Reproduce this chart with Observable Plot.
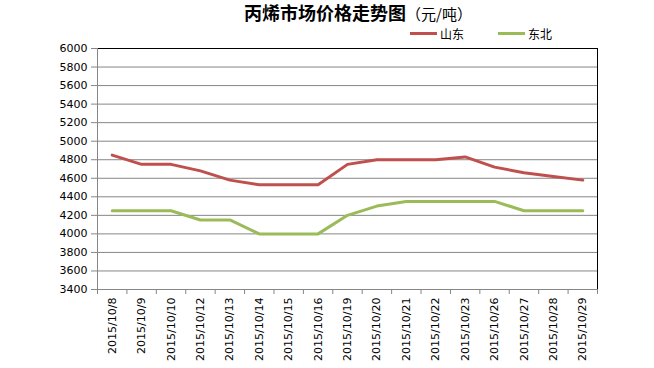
<!DOCTYPE html>
<html><head><meta charset="utf-8">
<script src="https://cdn.jsdelivr.net/npm/d3@7"></script>
<script src="https://cdn.jsdelivr.net/npm/@observablehq/plot@0.6"></script>
<style>
body{margin:0;background:#fff;font-family:"Noto Sans CJK SC",sans-serif;}
#wrap{width:654px;height:368px;position:relative;overflow:hidden;}
#title{height:24px;line-height:24px;text-align:center;padding-left:62px;font-size:18px;color:#000;white-space:nowrap;}
#title b{font-weight:bold;}
#title span{font-weight:normal;font-size:15px;}
#legend{height:19px;position:relative;font-size:12px;}
.lg{position:absolute;top:0;display:flex;align-items:center;height:19px;}
.lg i{display:inline-block;width:27px;height:3px;margin-right:3px;}
</style></head>
<body><div id="wrap">
<div id="title"><b>丙烯市场价格走势图</b><span>（元/吨）</span></div>
<div id="legend"></div>
<div id="chart"></div>
</div>
<script>
const dates = ["2015/10/8","2015/10/9","2015/10/10","2015/10/12","2015/10/13","2015/10/14","2015/10/15","2015/10/16","2015/10/19","2015/10/20","2015/10/21","2015/10/22","2015/10/23","2015/10/26","2015/10/27","2015/10/28","2015/10/29"];
const shandong = [4850,4750,4750,4680,4580,4530,4530,4530,4750,4800,4800,4800,4830,4720,4660,4620,4580];
const dongbei = [4250,4250,4250,4150,4150,4000,4000,4000,4200,4300,4350,4350,4350,4350,4250,4250,4250];
const seriesNames = ["山东","东北"];
const colors = ["#C0504D","#9BBB59"];
const yTicks = d3.range(3400, 6001, 200);

const data = [];
dates.forEach((d,i)=>{
  data.push({i, date:d, v:shandong[i], s:seriesNames[0]});
  data.push({i, date:d, v:dongbei[i], s:seriesNames[1]});
});

// legend
const leg = document.getElementById("legend");
[[410,0],[498,1]].forEach(([x,k])=>{
  const el = document.createElement("div");
  el.className="lg"; el.style.left=x+"px";
  el.innerHTML = `<i style="background:${colors[k]}"></i>${seriesNames[k]}`;
  leg.appendChild(el);
});

const boundaries = d3.range(-0.5, dates.length, 1);
const chart = Plot.plot({
  width: 654,
  height: 325,
  marginLeft: 97,
  marginRight: 57,
  marginTop: 5,
  marginBottom: 79,
  style: {fontFamily: "DejaVu Sans", fontSize: "11px", color: "#000", background: "#fff"},
  x: {domain: [-0.5, dates.length - 0.5]},
  y: {domain: [3400, 6000]},
  color: {domain: seriesNames, range: colors},
  marks: [
    Plot.gridY(yTicks, {stroke: "#868686", strokeOpacity: 1}),
    Plot.frame({stroke: "#000"}),
    Plot.ruleY([3400], {stroke: "#868686"}),
    Plot.ruleX([-0.5], {stroke: "#868686"}),
    Plot.axisY({ticks: yTicks, tickSize: 6, tickPadding: 4, tickFormat: d3.format("d"), stroke: "#868686", label: null}),
    Plot.axisX({ticks: boundaries, tickSize: 5, tickFormat: () => "", stroke: "#868686", label: null}),
    Plot.axisX({ticks: d3.range(dates.length), tickSize: 0, tickPadding: 8, tickRotate: -90, tickFormat: i => dates[i], label: null}),
    Plot.line(data, {x: "i", y: "v", z: "s", stroke: "s", strokeWidth: 3})
  ]
});
document.getElementById("chart").appendChild(chart);
</script>
</body></html>
